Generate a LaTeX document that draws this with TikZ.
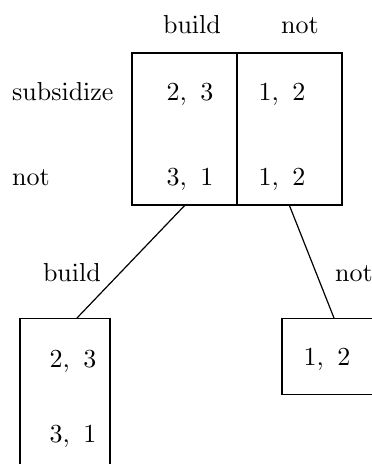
\documentclass[tikz,border=0pt]{standalone}
\font\bigrm=cmr10 at 26pt
\newcommand{\pay}[2]{#1,\kern13.5pt#2}
\begin{document}
\begin{tikzpicture}[x=1pt,y=-1pt,
  box/.style={draw,line width=1.3pt,inner sep=0pt,minimum width=#1},
  lbl/.style={font=\bigrm,inner sep=0pt,anchor=base},
  conn/.style={line width=1.2pt}]
\useasboundingbox (0,0) rectangle (372,464);
\clip (0,0) rectangle (372,464);
% top matrix
\node[box=105pt,minimum height=152pt] (c1) at (184.5,129) {};
\node[box=105pt,minimum height=152pt] (c2) at (289.5,129) {};
\node[lbl] (h1) at (192,33) {build};
\node[lbl] (h2) at (300,33) {not};
\node[lbl,anchor=base west] (r1) at (12,100) {subsidize};
\node[lbl,anchor=base west] (r2) at (12,185) {not};
\node[lbl] (e11) at (190,100) {\pay{2}{3}};
\node[lbl] (e12) at (282,100) {\pay{1}{2}};
\node[lbl] (e21) at (190,185) {\pay{3}{1}};
\node[lbl] (e22) at (282,185) {\pay{1}{2}};
% bottom boxes
\node[box=90pt,minimum height=180pt,anchor=north] (lb) at (65,318) {};
\node[box=104pt,minimum height=76pt,anchor=north] (rb) at (334,318) {};
\coordinate (lt) at (77,318);
\node[lbl] (l1) at (73,367) {\pay{2}{3}};
\node[lbl] (l2) at (73,442) {\pay{3}{1}};
\node[lbl] (r12) at (327,365) {\pay{1}{2}};
% connectors
\draw[conn] (c1.south) -- (lt);
\draw[conn] (c2.south) -- (rb.north);
\node[lbl,anchor=base east] (bl) at (101,281) {build};
\node[lbl,anchor=base west] (nl) at (335,281) {not};
\end{tikzpicture}
\end{document}
